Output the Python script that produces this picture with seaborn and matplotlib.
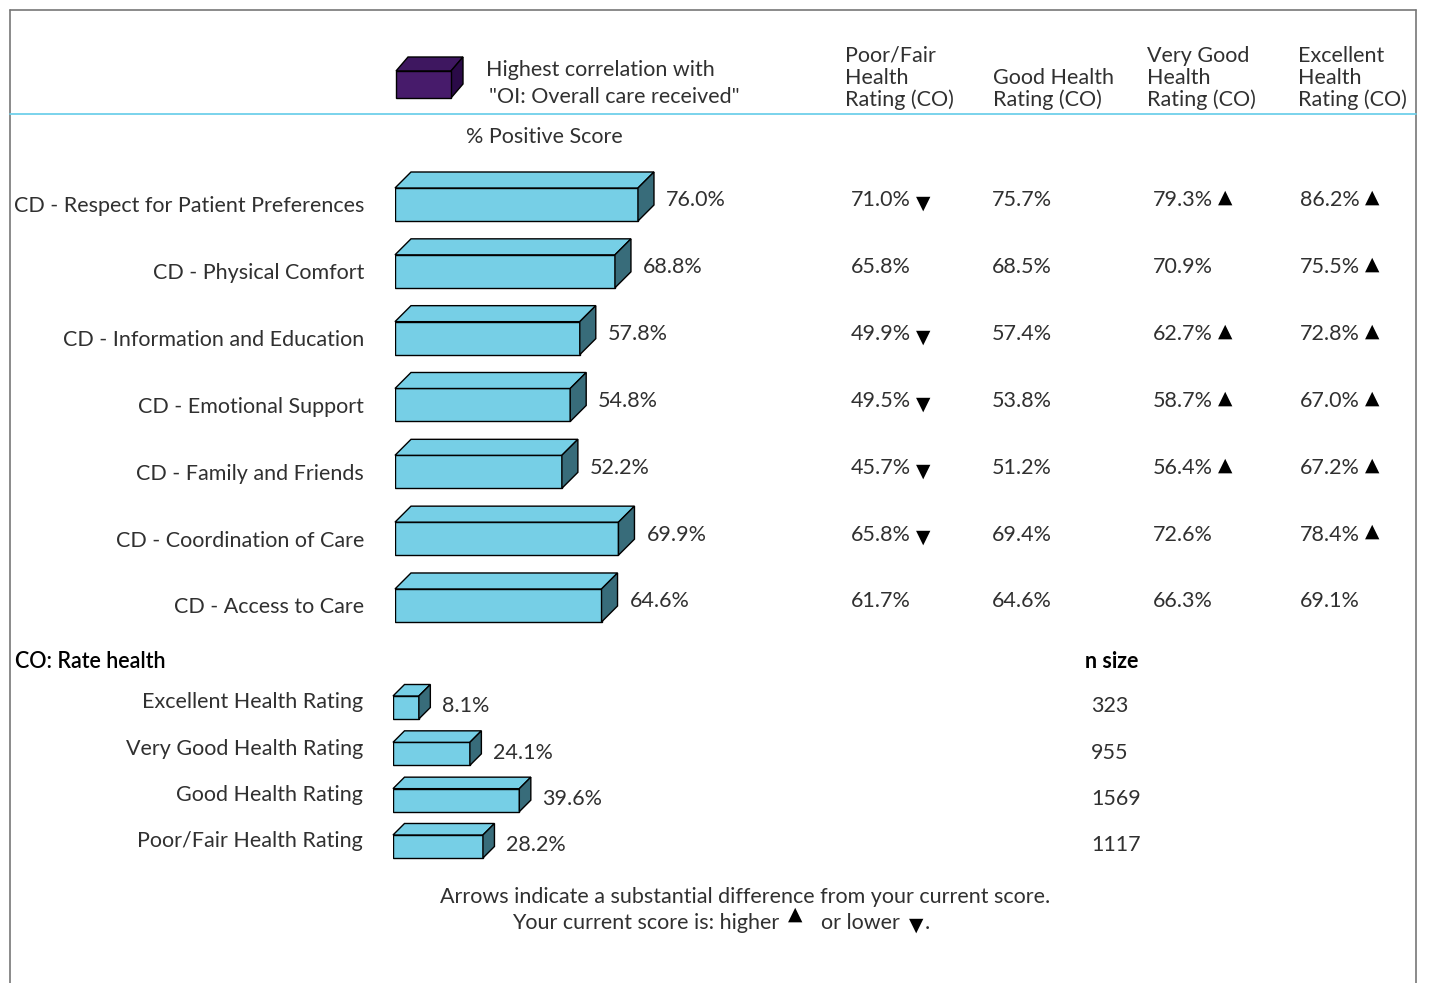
import matplotlib
matplotlib.use("Agg")
import matplotlib.pyplot as plt
import matplotlib.transforms as mtransforms
from matplotlib.patches import Polygon
import pandas as pd
import seaborn as sns

# ---- data ----
CATEGORIES = [
    "CD - Respect for Patient Preferences",
    "CD - Physical Comfort",
    "CD - Information and Education",
    "CD - Emotional Support",
    "CD - Family and Friends",
    "CD - Coordination of Care",
    "CD - Access to Care",
]
overall_score = [76.0, 68.8, 57.8, 54.8, 52.2, 69.9, 64.6]

COLUMN_HEADERS = [
    ["Poor/Fair", "Health", "Rating (CO)"],
    ["Good Health", "Rating (CO)"],
    ["Very Good", "Health", "Rating (CO)"],
    ["Excellent", "Health", "Rating (CO)"],
]
poor_fair = [71.0, 65.8, 49.9, 49.5, 45.7, 65.8, 61.7]
good = [75.7, 68.5, 57.4, 53.8, 51.2, 69.4, 64.6]
very_good = [79.3, 70.9, 62.7, 58.7, 56.4, 72.6, 66.3]
excellent = [86.2, 75.5, 72.8, 67.0, 67.2, 78.4, 69.1]
poor_fair_flags = ["down", "", "down", "down", "down", "down", ""]
good_flags = ["", "", "", "", "", "", ""]
very_good_flags = ["up", "", "up", "up", "up", "", ""]
excellent_flags = ["up", "up", "up", "up", "up", "up", ""]

HEALTH_LABELS = [
    "Excellent Health Rating",
    "Very Good Health Rating",
    "Good Health Rating",
    "Poor/Fair Health Rating",
]
health_pct = [8.1, 24.1, 39.6, 28.2]
health_n = [323, 955, 1569, 1117]

W, H = 1429, 983
FRONT = "#76cfe6"
SIDE = "#386c7a"
TXT = "#303030"
ARROW_FONT = dict(family=["DejaVu Sans"], weight="normal")
ARROW_FS = 13.5

sns.set_style("white")
plt.rcParams["font.family"] = ["Lato", "DejaVu Sans"]
plt.rcParams["font.weight"] = "normal"
FS = 15.5

fig = plt.figure(figsize=(W / 100, H / 100), dpi=100)

# background axes in pixel coordinates for the frame and free text
ax_bg = fig.add_axes([0, 0, 1, 1])
ax_bg.set_xlim(0, W)
ax_bg.set_ylim(H, 0)
ax_bg.axis("off")


def px_axes(left, top, width, height):
    return fig.add_axes([left / W, (H - top - height) / H, width / W, height / H])


def add_depth(ax, depth):
    # turn the flat seaborn bars into boxes: top face + dark side face
    fig.canvas.draw()
    for p in ax.patches:
        x0, y0 = p.get_x(), p.get_y()
        pts = ax.transData.transform(
            [(x0, y0), (x0 + p.get_width(), y0 + p.get_height())]
        )
        l, r = pts[:, 0].min(), pts[:, 0].max()
        b, t = pts[:, 1].min(), pts[:, 1].max()
        d = depth
        top = Polygon([(l, t), (r, t), (r + d, t + d), (l + d, t + d)],
                      closed=True, facecolor=FRONT, edgecolor="black", lw=1,
                      transform=mtransforms.IdentityTransform(), clip_on=False)
        side = Polygon([(r, t), (r + d, t + d), (r + d, b + d), (r, b)],
                       closed=True, facecolor=SIDE, edgecolor="black", lw=1,
                       transform=mtransforms.IdentityTransform(), clip_on=False)
        fig.add_artist(top)
        fig.add_artist(side)


# ---- main bars ----
PX_PER_PCT = 3.197
row_h = 66.83
ax_main = px_axes(395, 204.5 - row_h / 2, 100 * PX_PER_PCT, row_h * len(CATEGORIES))
main_df = pd.DataFrame({"category": CATEGORIES, "score": overall_score})
sns.barplot(data=main_df, x="score", y="category", orient="h", ax=ax_main,
            color=FRONT, saturation=1, width=33 / row_h,
            edgecolor="black", linewidth=1)
ax_main.set_xlim(0, 100)
ax_main.set_ylim(len(CATEGORIES) - 0.5, -0.5)
ax_main.axis("off")
add_depth(ax_main, 16)

for i, v in enumerate(overall_score):
    ax_main.annotate(f"{v:.1f}%", xy=(v, i), xytext=(28, 4),
                     textcoords="offset pixels", ha="left", va="center",
                     fontsize=FS, color=TXT)
    ax_main.annotate(CATEGORIES[i], xy=(364, i), xycoords=(ax_bg.transData, ax_main.transData),
                     xytext=(0, -2), textcoords="offset pixels",
                     ha="right", va="center", fontsize=FS, color=TXT)

# ---- comparison columns ----
col_x = [851, 992, 1153, 1300]
arrow_x = [923, None, 1225, 1372]
for values, flags, x, ax_ in zip(
    [poor_fair, good, very_good, excellent],
    [poor_fair_flags, good_flags, very_good_flags, excellent_flags],
    col_x, arrow_x,
):
    for i, (v, f) in enumerate(zip(values, flags)):
        ax_main.annotate(f"{v:.1f}%", xy=(x, i), xycoords=(ax_bg.transData, ax_main.transData),
                         xytext=(0, 4), textcoords="offset pixels",
                         ha="left", va="center", fontsize=FS, color=TXT)
        if f:
            glyph = "\u25b2" if f == "up" else "\u25bc"
            dy = 7 if f == "up" else 1
            ax_main.annotate(glyph, xy=(ax_, i), xycoords=(ax_bg.transData, ax_main.transData),
                             xytext=(0, dy), textcoords="offset pixels",
                             ha="center", va="center", fontsize=ARROW_FS, color="black",
                             **ARROW_FONT)

for lines, x in zip(COLUMN_HEADERS, [845, 993, 1147, 1298]):
    ys = [56, 78, 100][-len(lines):]
    for line, y in zip(lines, ys):
        ax_bg.text(x, y, line, ha="left", va="center", fontsize=FS, color=TXT)

# ---- health distribution bars ----
row_h2 = 46.33
ax_h = px_axes(393, 707.5 - row_h2 / 2, 100 * 3.19, row_h2 * len(HEALTH_LABELS))
health_df = pd.DataFrame({"rating": HEALTH_LABELS, "pct": health_pct})
sns.barplot(data=health_df, x="pct", y="rating", orient="h", ax=ax_h,
            color=FRONT, saturation=1, width=23 / row_h2,
            edgecolor="black", linewidth=1)
ax_h.set_xlim(0, 100)
ax_h.set_ylim(len(HEALTH_LABELS) - 0.5, -0.5)
ax_h.axis("off")
add_depth(ax_h, 11.5)

for i, (lab, v, n) in enumerate(zip(HEALTH_LABELS, health_pct, health_n)):
    ax_h.annotate(f"{v:.1f}%", xy=(v, i), xytext=(23, 1),
                  textcoords="offset pixels", ha="left", va="center",
                  fontsize=FS, color=TXT)
    ax_h.annotate(lab, xy=(363, i), xycoords=(ax_bg.transData, ax_h.transData),
                  xytext=(0, 5), textcoords="offset pixels",
                  ha="right", va="center", fontsize=FS, color=TXT)
    ax_h.annotate(str(n), xy=(1091, i), xycoords=(ax_bg.transData, ax_h.transData),
                  xytext=(0, 1), textcoords="offset pixels",
                  ha="left", va="center", fontsize=FS, color=TXT)

ax_bg.text(15, 661, "CO: Rate health", ha="left", va="center", fontsize=FS,
           color="black", weight="semibold")
ax_bg.text(1085, 661, "n size", ha="left", va="center", fontsize=FS,
           color="black", weight="bold")

# ---- legend cube ----
fl, fr, ft, fb, d = 396, 451, 71, 98, 12
ax_bg.add_patch(Polygon([(fl, ft), (fr, ft), (fr + d, ft - 14), (fl + d, ft - 14)],
                        facecolor="#3e1760", edgecolor="black", lw=1))
ax_bg.add_patch(Polygon([(fr, ft), (fr + d, ft - 14), (fr + d, fb - 14), (fr, fb)],
                        facecolor="#2a0a47", edgecolor="black", lw=1))
ax_bg.add_patch(Polygon([(fl, ft), (fr, ft), (fr, fb), (fl, fb)],
                        facecolor="#471b6b", edgecolor="black", lw=1))
ax_bg.text(486, 70, "Highest correlation with", ha="left", va="center",
           fontsize=FS, color=TXT)
ax_bg.text(489, 97, "\"OI: Overall care received\"", ha="left", va="center",
           fontsize=FS, color=TXT)
ax_bg.text(544, 137, "% Positive Score", ha="center", va="center",
           fontsize=FS, color=TXT)

# ---- frame ----
ax_bg.plot([10, 1416], [10, 10], color="#777777", lw=1.2)
ax_bg.plot([10, 10], [10, 983], color="#777777", lw=1.2)
ax_bg.plot([1416, 1416], [10, 983], color="#777777", lw=1.2)
ax_bg.plot([10, 1416], [114, 114], color="#6fd0ea", lw=1.3)

# ---- footer ----
ax_bg.text(745, 897, "Arrows indicate a substantial difference from your current score.",
           ha="center", va="center", fontsize=FS, color=TXT)
ax_bg.text(779, 923, "Your current score is: higher", ha="right", va="center",
           fontsize=FS, color=TXT)
ax_bg.text(795, 914, "\u25b2", ha="center", va="center", fontsize=ARROW_FS,
           color="black", **ARROW_FONT)
ax_bg.text(821, 923, "or lower", ha="left", va="center", fontsize=FS, color=TXT)
ax_bg.text(916, 925, "\u25bc", ha="center", va="center", fontsize=ARROW_FS,
           color="black", **ARROW_FONT)
ax_bg.text(925, 923, ".", ha="left", va="center", fontsize=FS, color=TXT)

fig.savefig("out.png", dpi=100)
